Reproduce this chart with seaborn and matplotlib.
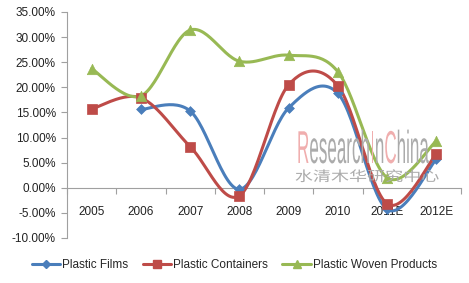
import numpy as np
import pandas as pd
import matplotlib
matplotlib.use("Agg")
import matplotlib.pyplot as plt
import seaborn as sns
from matplotlib.lines import Line2D
from matplotlib.text import Text
from matplotlib.patheffects import AbstractPathEffect
from matplotlib.transforms import Affine2D, IdentityTransform

years = ["2005", "2006", "2007", "2008", "2009", "2010", "2011E", "2012E"]
films = [np.nan, 15.6, 15.3, -0.3, 15.9, 18.8, -4.3, 5.7]
containers = [15.7, 17.9, 8.2, -1.6, 20.5, 20.3, -3.2, 6.7]
woven = [23.7, 18.3, 31.4, 25.2, 26.4, 23.1, 2.0, 9.3]
yticks = [-10, -5, 0, 5, 10, 15, 20, 25, 30, 35]

series = [
    ("Plastic Films", films, "#4A7EBB", "D", 5),
    ("Plastic Containers", containers, "#BE4B48", "s", 7),
    ("Plastic Woven Products", woven, "#98B954", "^", 7.5),
]

sns.set_theme(style="white")
plt.rcParams["font.family"] = ["Liberation Sans", "DejaVu Sans"]

W, H = 469, 283
fig = plt.figure(figsize=(W / 100, H / 100), dpi=100)
ax = fig.add_axes([67 / W, 45 / H, (461 - 67) / W, (271 - 45) / H])


class Stretch(AbstractPathEffect):
    """Scale glyph paths about a display point (cx, cy)."""

    def __init__(self, sx, sy, cx, cy):
        super().__init__()
        self.sx, self.sy, self.cx, self.cy = sx, sy, cx, cy

    def draw_path(self, renderer, gc, tpath, affine, rgbFace=None):
        aff = affine + Affine2D().translate(-self.cx, -self.cy).scale(self.sx, self.sy).translate(self.cx, self.cy)
        renderer.draw_path(gc, tpath, aff, rgbFace)


def smooth(xv, yv, n=30):
    x = np.asarray(xv, float)
    y = np.asarray(yv, float)
    P = np.column_stack([x, y])
    out = [P[0]]
    for i in range(len(P) - 1):
        p0 = P[i - 1] if i > 0 else P[i]
        p1 = P[i]
        p2 = P[i + 1]
        p3 = P[i + 2] if i + 2 < len(P) else P[i + 1]
        c1 = p1 + (p2 - p0) / 6
        c2 = p2 - (p3 - p1) / 6
        t = np.linspace(0, 1, n)[1:, None]
        seg = ((1 - t) ** 3) * p1 + 3 * ((1 - t) ** 2) * t * c1 + 3 * (1 - t) * t ** 2 * c2 + t ** 3 * p2
        out.extend(seg)
    out = np.array(out)
    return out[:, 0], out[:, 1]


handles = []
for name, vals, color, mk, ms in series:
    df = pd.DataFrame({"x": np.arange(len(years)), "y": vals}).dropna()
    sx, sy = smooth(df["x"], df["y"])
    sns.lineplot(x=sx, y=sy, sort=False, estimator=None, color=color, lw=2.2, ax=ax, zorder=3)
    sns.scatterplot(x=df["x"], y=df["y"], marker=mk, s=ms ** 2, color=color,
                    edgecolor=color, linewidth=0.5, ax=ax, zorder=4)
    handles.append(Line2D([0], [0], color=color, lw=2.2, marker=mk, markersize=ms * 0.75,
                          markeredgecolor=color, label=name))

ax.set_xlim(-0.5, len(years) - 0.5)
ax.set_ylim(-10, 35)
ax.set_yticks(yticks)
ax.set_yticklabels([f"{v:.2f}%" for v in yticks])

ax.set_xticks(np.arange(-0.5, len(years), 1.0))
ax.set_xticklabels([])
ax.set_xticks(np.arange(len(years)), minor=True)
ax.set_xticklabels(years, minor=True)
ax.tick_params(axis="x", which="major", direction="out", length=4, color="#A0A0A0", width=0.8, bottom=True)
ax.tick_params(axis="x", which="minor", length=0, pad=13, bottom=True, labelsize=8.5, labelcolor="#222222")
ax.tick_params(axis="y", direction="out", length=4, color="#A0A0A0", width=0.8, pad=4, left=True,
               labelsize=8.5, labelcolor="#222222")

for s in ["top", "right"]:
    ax.spines[s].set_visible(False)
ax.spines["bottom"].set_position(("data", 0))
for s in ["bottom", "left"]:
    ax.spines[s].set_color("#A0A0A0")
    ax.spines[s].set_linewidth(0.8)
ax.set_xlabel("")
ax.set_ylabel("")

# watermark (display coords: pixels from bottom-left at dpi 100)
pink = "#F0AEAE"
gray = "#ABABAB"
cx = 363
base_y = H - 163
parts = [("R", pink), ("esearch", gray), ("I", pink), ("n", gray), ("C", pink), ("hina", gray)]
renderer = fig.canvas.get_renderer()
props = dict(fontsize=16, family=["Liberation Sans"])
widths = []
for t, _ in parts:
    tmp = Text(0, 0, t, **props)
    tmp.set_figure(fig)
    widths.append(tmp.get_window_extent(renderer).width)
total = sum(widths)
sxw = 132 / total
syw = 33 / (16 * 100 / 72 * 0.716)
x = cx - total / 2
for (t, c), w in zip(parts, widths):
    txt = Text(x, base_y, t, color=c, ha="left", va="baseline", transform=IdentityTransform(),
               zorder=5, path_effects=[Stretch(sxw, syw, cx, base_y)], **props)
    fig.add_artist(txt)
    x += w

cn_y = H - 177
fig.text(367 / W, cn_y / H, "水清木华研究中心", ha="center", va="center", fontsize=10,
         color=gray, family=["Noto Sans CJK SC", "DejaVu Sans"], zorder=5,
         path_effects=[Stretch(1.3, 1.0, 367, cn_y)])

fig.legend(handles=handles, loc="center", bbox_to_anchor=(0.5, 1 - 265.5 / H), ncol=3, frameon=False,
           fontsize=8.5, handlelength=2.4, columnspacing=1.2, handletextpad=0.2)

fig.savefig("out.png", dpi=100)
